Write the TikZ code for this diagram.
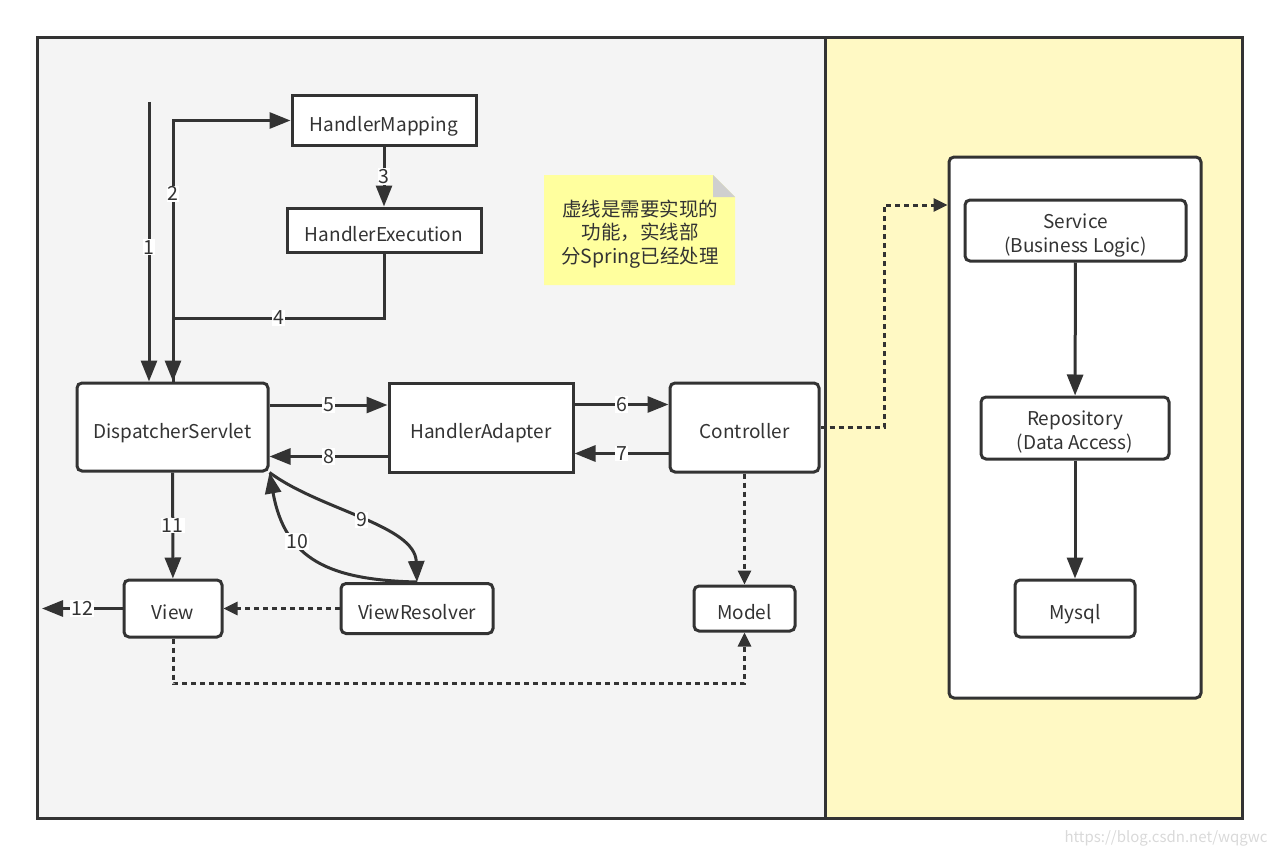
\documentclass[tikz,border=0pt]{standalone}
\usepackage{fontspec}
\setmainfont{Noto Sans CJK SC}
\usetikzlibrary{arrows.meta}
\definecolor{linegray}{HTML}{333333}
\definecolor{panelgray}{HTML}{F4F4F4}
\definecolor{panelyellow}{HTML}{FFF9C4}
\definecolor{notefill}{HTML}{FFFF9E}
\definecolor{foldgray}{HTML}{CFCFCF}
\begin{document}
\begin{tikzpicture}[
        x=1pt, y=-1pt,
        box/.style={draw=linegray, fill=white, line width=3pt, inner sep=0pt, text=linegray, font=\fontsize{19}{24}\selectfont, text height=22pt, text depth=0pt},
        rbox/.style={box, rounded corners=5pt},
        twoline/.style={align=center, text height=43pt, text depth=0pt},
        flow/.style={draw=linegray, line width=3pt, -{Triangle[length=21pt,width=16pt]}},
        dots/.style={flow, dash pattern=on 5pt off 4pt, -{Triangle[length=14pt,width=13pt]}},
        num/.style={fill=white, inner sep=1pt, text=linegray, font=\fontsize{19.5}{19.5}\selectfont},
    ]
    \useasboundingbox (0,0) rectangle (1279,856);
    % panels
    \fill[panelgray] (37,38) rectangle (825,818);
    \fill[panelyellow] (825,38) rectangle (1242,818);
    \draw[linegray, line width=3pt] (37,38) rectangle (1242,818) (825,38) -- (825,818);

    % note
    \fill[notefill] (544,175) -- (713,175) -- (735,197) -- (735,285) -- (544,285) -- cycle;
    \fill[foldgray] (713,175) -- (735,197) -- (713,197) -- cycle;
    \node[align=center, text=linegray, font=\fontsize{19.5}{23.5}\selectfont] (note) at (640,234) {虚线是需要实现的\\功能，实线部\\分Spring已经处理};

    \node[box, minimum width=184, minimum height=49] (mapping) at (384,120.5) {HandlerMapping};
    \node[box, minimum width=194, minimum height=44] (execution) at (384,230) {HandlerExecution};
    \node[rbox, minimum width=191, minimum height=88] (dispatcher) at (172.5,427) {DispatcherServlet};
    \node[box, minimum width=184, minimum height=89] (adapter) at (481,427.5) {HandlerAdapter};
    \node[rbox, minimum width=149, minimum height=89] (controller) at (744.5,427.5) {Controller};
    \node[rbox, minimum width=98, minimum height=57] (view) at (173,608.5) {View};
    \node[rbox, minimum width=152, minimum height=50] (resolver) at (417,608.5) {ViewResolver};
    \node[rbox, minimum width=101, minimum height=45] (model) at (744.5,608.5) {Model};

    \node[rbox, minimum width=252, minimum height=541] (layer) at (1075,427.5) {};
    \node[rbox, twoline, minimum width=221, minimum height=61] (service) at (1075.5,230.5) {Service\\(Business Logic)};
    \node[rbox, twoline, minimum width=188, minimum height=62] (repository) at (1075,428) {Repository\\(Data Access)};
    \node[rbox, minimum width=120, minimum height=57] (mysql) at (1075,608.5) {Mysql};

    \coordinate (entry) at (149,102);
    \coordinate (fork) at (173,318);
    \coordinate (exit) at (42,608.5);
    \coordinate (hook) at (884,205);

    \draw[flow] (entry) -- node[num, pos=0.52]{1} (entry |- dispatcher.north);
    \draw[flow] (dispatcher.north -| fork) |- node[num, pos=0.36]{2} (mapping.west);
    \draw[flow] (mapping) -- node[num]{3} (execution);
    \draw[flow] (execution.south) |- node[num, pos=0.75]{4} (fork) -- (dispatcher.north -| fork);
    \draw[flow] ([yshift=22pt]dispatcher.east) -- node[num]{5} ([yshift=22pt]dispatcher.east -| adapter.west);
    \draw[flow] ([yshift=23pt]adapter.east) -- node[num]{6} ([yshift=23pt]adapter.east -| controller.west);
    \draw[flow] ([yshift=-26pt]controller.west) -- node[num]{7} ([yshift=-26pt]controller.west -| adapter.east);
    \draw[flow] ([yshift=-29pt]adapter.west) -- node[num]{8} ([yshift=-29pt]adapter.west -| dispatcher.east);
    \draw[flow] (dispatcher.south east) .. controls (320,510) and (415,525) .. (resolver.north) node[num, pos=0.5]{9};
    \draw[flow] (resolver.north) .. controls (330,580) and (285,560) .. (dispatcher.south east) node[num, pos=0.65]{10};
    \draw[flow] (dispatcher) -- node[num]{11} (view);
    \draw[flow] (view) -- node[num]{12} (exit);

    \draw[dots] (resolver) -- (view);
    \draw[dots] (view.south) -- ++(0,45) -| (model.south);
    \draw[dots] (controller) -- (model);
    \draw[dots] (controller.east) -| (hook) -- (hook -| layer.west);

    \draw[flow] (service) -- (repository);
    \draw[flow] (repository) -- (mysql);

    \node[anchor=east, text=gray!30, font=\fontsize{15}{15}\selectfont] (mark) at (1271,838) {https://blog.csdn.net/wqgwc};
\end{tikzpicture}
\end{document}
